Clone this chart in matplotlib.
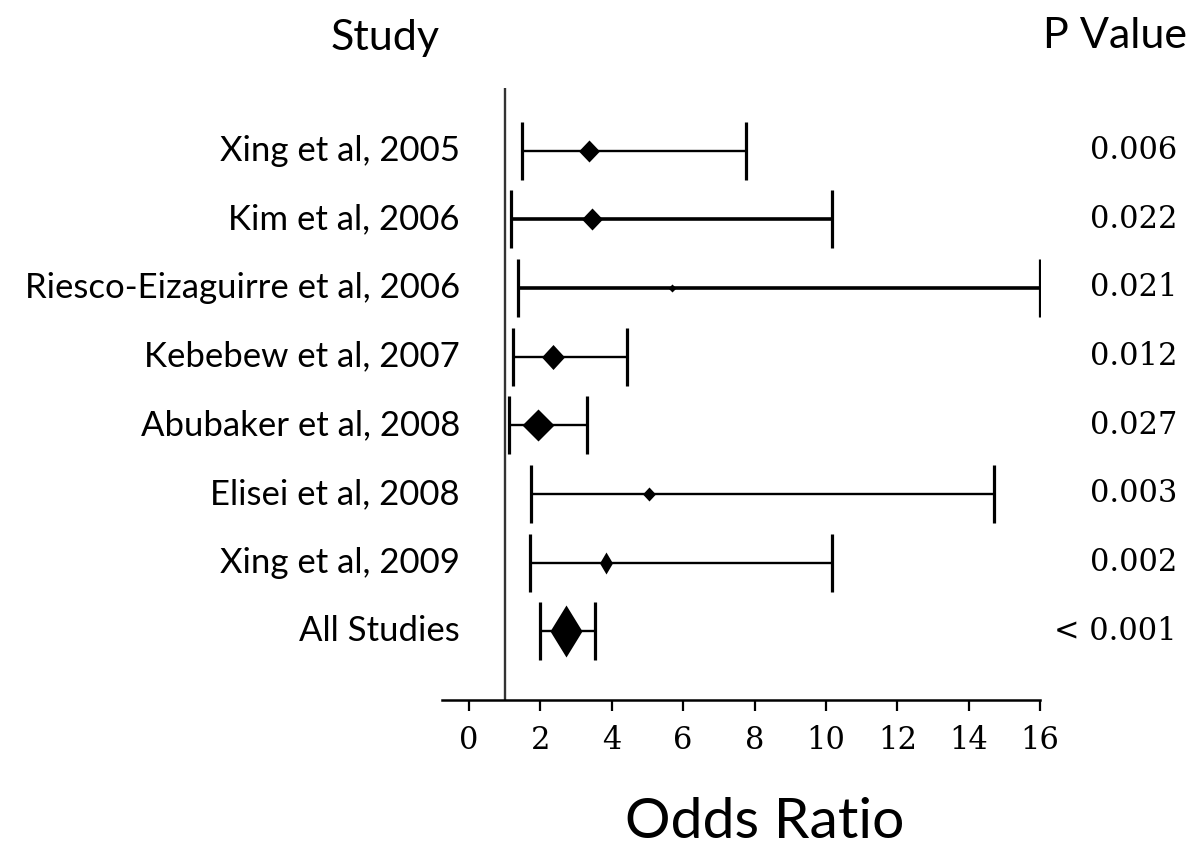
import matplotlib
matplotlib.use("Agg")
import matplotlib.pyplot as plt
from matplotlib.path import Path
from matplotlib.transforms import blended_transform_factory

# ---- data ----
studies = ["Xing et al, 2005", "Kim et al, 2006", "Riesco-Eizaguirre et al, 2006",
           "Kebebew et al, 2007", "Abubaker et al, 2008", "Elisei et al, 2008",
           "Xing et al, 2009", "All Studies"]
odds_ratio = [3.37, 3.45, 5.68, 2.34, 1.94, 5.04, 3.84, 2.72]
ci_low = [1.49, 1.18, 1.38, 1.22, 1.11, 1.73, 1.70, 1.99]
ci_high = [7.75, 10.17, 16.0, 4.43, 3.31, 14.71, 10.17, 3.53]
p_values = ["0.006", "0.022", "0.021", "0.012", "0.027", "0.003", "0.002", "< 0.001"]
xticks = [0, 2, 4, 6, 8, 10, 12, 14, 16]

# ---- styles ----
marker_wh = [(21, 22), (21, 22), (8, 8), (23, 25), (32, 32), (13, 14), (13, 22), (32, 52)]  # px
line_w = [1.7, 2.6, 2.6, 1.7, 1.7, 1.7, 1.7, 1.7]

W, H = 1192, 850
fig = plt.figure(figsize=(W / 100, H / 100), dpi=100)
ax_left, ax_right, ax_bottom, ax_top = 442, 1040, 700, 88
ax = fig.add_axes([ax_left / W, 1 - ax_bottom / H, (ax_right - ax_left) / W, (ax_bottom - ax_top) / H])

n = len(studies)
ypos = list(range(n, 0, -1))
ax.set_xlim(-0.757, 16)
ax.set_ylim(0, 8.91)

ax.axvline(1, color="#333333", lw=1.7, zorder=1)

for i in range(n):
    y = ypos[i]
    ax.errorbar([odds_ratio[i]], [y],
                xerr=[[odds_ratio[i] - ci_low[i]], [ci_high[i] - odds_ratio[i]]],
                fmt="none", ecolor="black", elinewidth=line_w[i],
                capsize=21, capthick=2.3, zorder=2)
    w, h = marker_wh[i]
    m = max(w, h)
    diamond = Path([(0, h / m), (w / m, 0), (0, -h / m), (-w / m, 0), (0, h / m)],
                   [Path.MOVETO, Path.LINETO, Path.LINETO, Path.LINETO, Path.CLOSEPOLY])
    ax.plot([odds_ratio[i]], [y], marker=diamond, markersize=m * 0.72,
            color="black", markeredgewidth=0, linestyle="none", zorder=3)

for s in ["top", "right", "left"]:
    ax.spines[s].set_visible(False)
ax.spines["bottom"].set_linewidth(1.8)
ax.set_yticks([])
ax.set_xticks(xticks)
ax.set_xticklabels([str(t) for t in xticks], fontfamily="DejaVu Serif", fontsize=22)
ax.tick_params(axis="x", direction="out", length=8, width=1.6, pad=10)

label_font = "Lato"
tr = blended_transform_factory(fig.transFigure, ax.transData)
for i in range(n):
    fig.text(460 / W, ypos[i], studies[i], transform=tr, ha="right", va="center",
             fontfamily=label_font, fontsize=25)
    fig.text(1177 / W, ypos[i], p_values[i], transform=tr, ha="right", va="center",
             fontfamily="DejaVu Serif", fontsize=22)

fig.text(385 / W, 1 - 50 / H, "Study", ha="center", va="baseline", fontfamily=label_font, fontsize=31)
fig.text(1187 / W, 1 - 48 / H, "P Value", ha="right", va="baseline", fontfamily=label_font, fontsize=31)
fig.text(765 / W, 1 - 838 / H, "Odds Ratio", ha="center", va="baseline", fontfamily=label_font, fontsize=41)

fig.savefig("out.png", dpi=100)
